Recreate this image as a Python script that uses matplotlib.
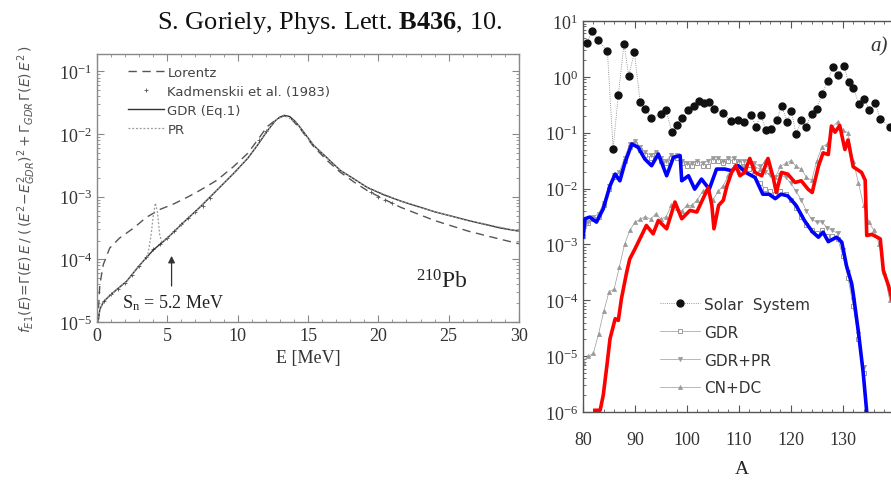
import numpy as np
import matplotlib.pyplot as plt
from matplotlib.ticker import MultipleLocator, LogLocator, NullFormatter

plt.rcParams['font.family'] = 'Liberation Serif'
plt.rcParams['mathtext.fontset'] = 'custom'
plt.rcParams['mathtext.rm'] = 'Liberation Serif'
plt.rcParams['mathtext.it'] = 'Liberation Serif:italic'
plt.rcParams['mathtext.bf'] = 'Liberation Serif:bold'

# ---- left panel: E1 strength of 210Pb (values as log10) ----
gdr_E = [0.05, 0.2, 0.45, 0.8, 1.2, 2.1, 3.0, 4.0, 5.0, 6.1, 7.3, 8.5, 9.7, 10.7, 11.4,
         12.1, 12.7, 13.0, 13.3, 13.7, 14.1, 14.5, 15.4, 16.4, 17.3, 18.3, 19.2, 20.4,
         21.6, 24.0, 26.4, 28.7, 30.0]
gdr_log = [-5.05, -4.8, -4.68, -4.6, -4.52, -4.35, -4.1, -3.85, -3.66, -3.42, -3.17, -2.9,
           -2.63, -2.39, -2.18, -1.95, -1.78, -1.73, -1.70, -1.72, -1.8, -1.91, -2.18, -2.39,
           -2.58, -2.72, -2.85, -2.97, -3.07, -3.24, -3.38, -3.5, -3.55]

lor_E = [0.05, 0.2, 0.45, 0.9, 1.6, 2.6, 3.5, 4.5, 5.4, 6.4, 7.3, 8.5, 9.7, 10.7, 11.4,
         12.1, 12.9, 13.3, 13.7, 14.5, 15.4, 16.4, 17.3, 18.3, 19.2, 20.4, 21.6, 24.0,
         26.4, 28.7, 30.0]
lor_log = [-5.0, -4.4, -4.08, -3.82, -3.66, -3.5, -3.33, -3.2, -3.12, -3.01, -2.9, -2.74,
           -2.52, -2.31, -2.1, -1.88, -1.74, -1.71, -1.73, -1.93, -2.2, -2.43, -2.61, -2.77,
           -2.9, -3.04, -3.17, -3.38, -3.55, -3.68, -3.75]

pr_E = [0.05, 0.2, 0.45, 1.2, 2.1, 3.0, 3.6, 3.85, 4.0, 4.15, 4.3, 4.45, 4.6, 5.0, 6.1,
        7.3, 8.5, 9.7, 10.7, 11.4, 12.1, 12.7, 13.3, 14.1, 15.4, 17.3, 19.2, 21.6, 24.0,
        26.4, 30.0]
pr_log = [-5.05, -4.8, -4.68, -4.52, -4.35, -4.1, -3.95, -3.6, -3.3, -3.1, -3.25, -3.6,
          -3.72, -3.66, -3.42, -3.17, -2.9, -2.63, -2.39, -2.18, -1.95, -1.78, -1.70, -1.8,
          -2.18, -2.58, -2.85, -3.07, -3.24, -3.38, -3.55]

kad_E = [0.5, 1.0, 1.5, 2.0, 2.5, 3.0, 3.5, 4.0, 4.5, 5.0, 5.5, 6.0, 6.5, 7.0, 7.5, 8.0,
         11.5, 12.0, 19.5, 20.0, 20.5, 21.0]
kad_log = [-4.66, -4.55, -4.47, -4.37, -4.25, -4.11, -3.97, -3.84, -3.75, -3.66, -3.55,
           -3.44, -3.34, -3.24, -3.14, -3.02, -2.1, -1.95, -2.93, -3.0, -3.05, -3.1]

# ---- right panel: abundances vs A (values as log10) ----
ss_A = [80.7, 81.8, 82.9, 84.7, 85.8, 86.8, 87.9, 88.8, 89.9, 91.0, 92.0, 93.1, 95.0, 96.0,
        97.1, 98.0, 99.0, 100.3, 101.3, 102.3, 103.3, 104.3, 105.3, 106.9, 108.5, 109.8,
        111.0, 112.3, 113.3, 114.2, 115.2, 116.2, 117.3, 118.2, 119.3, 120.1, 121.0, 122.0,
        122.9, 124.0, 125.0, 126.0, 127.1, 128.1, 129.1, 130.2, 131.1, 132.0, 133.1, 134.1,
        135.1, 136.2, 137.2, 139.0]
ss_log = [0.60, 0.82, 0.66, 0.46, -1.29, -0.32, 0.59, 0.02, 0.44, -0.45, -0.57, -0.74, -0.66,
          -0.60, -0.99, -0.86, -0.74, -0.60, -0.52, -0.44, -0.47, -0.45, -0.57, -0.65, -0.79,
          -0.78, -0.81, -0.68, -0.89, -0.68, -0.95, -0.93, -0.78, -0.52, -0.80, -0.61, -1.03,
          -0.77, -0.90, -0.66, -0.57, -0.30, -0.07, 0.18, 0.04, 0.20, -0.09, -0.19, -0.49,
          -0.39, -0.60, -0.46, -0.75, -0.90]

gdr_A = np.arange(80, 135)
gdr_ab = [-2.85, -2.62, -2.55, -2.5, -2.3, -2.0, -1.8, -1.75, -1.5, -1.25, -1.2, -1.3, -1.4,
          -1.45, -1.4, -1.5, -1.55, -1.45, -1.45, -1.55, -1.6, -1.6, -1.55, -1.6, -1.6, -1.5,
          -1.5, -1.55, -1.5, -1.5, -1.55, -1.6, -1.65, -1.75, -1.9, -2.0, -2.05, -2.1, -2.05,
          -2.1, -2.2, -2.35, -2.5, -2.65, -2.75, -2.8, -2.75, -2.85, -2.85, -2.9, -3.2, -3.6,
          -4.1, -4.7, -5.3]
gdrpr_ab = [-2.8, -2.6, -2.5, -2.45, -2.25, -1.95, -1.75, -1.7, -1.45, -1.2, -1.15, -1.25,
            -1.35, -1.4, -1.35, -1.45, -1.5, -1.4, -1.4, -1.5, -1.55, -1.55, -1.5, -1.55,
            -1.5, -1.45, -1.45, -1.5, -1.45, -1.45, -1.5, -1.5, -1.5, -1.55, -1.6, -1.7,
            -1.75, -1.8, -1.75, -1.8, -1.9, -2.05, -2.2, -2.4, -2.55, -2.6, -2.6, -2.7, -2.75,
            -2.8, -3.1, -3.5, -4.0, -4.6, -5.2]
cn_A = np.arange(80, 140)
cn_ab = [-5.1, -5.0, -4.95, -4.6, -4.2, -3.85, -3.8, -3.4, -3.0, -2.75,
         -2.6, -2.55, -2.5, -2.55, -2.45, -2.55, -2.5, -2.3, -2.35, -2.4,
         -2.3, -2.3, -2.2, -2.05, -2.0, -2.2, -2.05, -1.95, -1.75, -1.6,
         -1.7, -1.6, -1.5, -1.6, -1.65, -1.5, -1.7, -1.8, -1.6, -1.55,
         -1.5, -1.6, -1.65, -1.8, -1.85, -1.5, -1.25, -1.2, -0.9, -0.8,
         -0.95, -1.0, -1.5, -1.9, -2.3, -2.6, -2.75, -3.0, -3.5, -4.0]

blue_A = [80.0, 80.4, 81.3, 82.6, 83.9, 85.2, 86.2, 87.1, 88.1, 89.4, 90.6, 91.9, 93.2, 94.5,
          96.1, 97.4, 98.7, 99.0, 100.3, 101.5, 102.8, 104.3, 105.7, 107.3, 108.6, 109.9,
          111.3, 113.1, 114.6, 115.8, 117.0, 118.1, 119.4, 121.0, 122.6, 124.1, 125.3, 126.2,
          127.2, 128.8, 129.8, 130.7, 131.7, 132.0, 133.0, 133.9, 134.6]
blue_log = [-2.87, -2.54, -2.51, -2.60, -2.36, -1.95, -1.74, -1.86, -1.53, -1.20, -1.26, -1.47,
            -1.59, -1.38, -1.77, -1.44, -1.41, -1.86, -1.77, -2.01, -1.83, -2.01, -1.65, -1.65,
            -1.68, -1.59, -1.71, -1.80, -2.10, -2.10, -2.18, -2.10, -2.13, -2.30, -2.57, -2.77,
            -2.87, -2.78, -2.95, -2.87, -2.96, -3.38, -3.70, -3.88, -4.57, -5.28, -6.0]

red_A = [82.3, 83.3, 83.9, 84.6, 85.2, 86.2, 86.8, 87.4, 88.4, 89.0, 90.0, 91.0, 92.2, 93.5,
         94.5, 96.1, 97.7, 99.0, 100.6, 101.9, 103.1, 104.1, 104.8, 105.2, 106.1, 107.0, 107.7,
         108.6, 109.4, 110.2, 111.1, 112.1, 113.1, 114.4, 115.6, 116.6, 117.2, 118.2, 119.4,
         120.8, 122.0, 123.3, 124.1, 125.3, 126.2, 127.2, 127.8, 128.5, 129.4, 130.4, 131.0,
         132.0, 133.6, 134.3, 134.6, 135.6, 137.2, 137.8, 138.8, 139.5, 140.5]
red_log = [-5.97, -5.97, -5.70, -5.17, -4.69, -4.33, -4.36, -3.97, -3.50, -3.26, -3.08, -2.89,
           -2.66, -2.81, -2.57, -2.72, -2.24, -2.54, -2.39, -2.42, -2.18, -1.98, -2.30, -2.72,
           -2.30, -2.21, -1.95, -1.71, -1.59, -1.77, -1.71, -1.46, -1.71, -1.77, -1.46, -1.80,
           -2.07, -1.71, -1.74, -1.89, -1.86, -2.01, -2.07, -1.60, -1.36, -1.39, -0.88, -0.99,
           -0.87, -1.30, -1.13, -1.61, -1.71, -1.85, -2.84, -2.82, -2.90, -3.47, -3.74, -4.0,
           -4.5]


def pw(v):
    return 10.0 ** np.asarray(v)


def style_axis(ax, col):
    for s in ax.spines.values():
        s.set_color(col)
        s.set_linewidth(1.0)
    ax.tick_params(which='both', direction='in', top=True, right=True, colors=col,
                   labelcolor='#333333', labelsize=13)
    ax.tick_params(which='major', length=5)
    ax.tick_params(which='minor', length=2.5)


fig = plt.figure(figsize=(8.91, 4.85), dpi=100)

# ---------- left ----------
ax1 = fig.add_axes([0.1089, 0.334, 0.4736, 0.5526])
ax1.plot(lor_E, pw(lor_log), color='#555555', lw=1.0, ls=(0, (6, 4)), label='Lorentz')
ax1.plot(kad_E, pw(kad_log), ls='none', marker='+', ms=3, mew=0.6, color='#555555',
         label='Kadmenskii et al. (1983)')
ax1.plot(gdr_E, pw(gdr_log), color='#333333', lw=1.0, label='GDR (Eq.1)')
ax1.plot(pr_E, pw(pr_log), color='#999999', lw=0.9, ls=(0, (1.5, 1.5)), label='PR')
ax1.set_yscale('log')
ax1.set_xlim(0, 30)
ax1.set_ylim(1e-5, 0.19)
ax1.xaxis.set_major_locator(MultipleLocator(5))
ax1.xaxis.set_minor_locator(MultipleLocator(1))
ax1.yaxis.set_major_locator(LogLocator(base=10, numticks=10))
ax1.yaxis.set_minor_locator(LogLocator(base=10, subs=np.arange(2, 10), numticks=10))
ax1.yaxis.set_minor_formatter(NullFormatter())
style_axis(ax1, '#888888')
ax1.set_xlabel('E [MeV]', fontsize=13, color='#333333', labelpad=4)
ax1.set_ylabel(r'$f_{E1}(E)\!=\!\Gamma(E)\,E\,/\;(\,(E^2\!-\!E^2_{GDR})^2+\Gamma_{GDR}\,\Gamma(E)\,E^2\,)$',
               fontsize=10, family='DejaVu Sans', math_fontfamily='dejavusans',
               color='#555555', labelpad=15)
leg1 = ax1.legend(loc='upper left', bbox_to_anchor=(0.045, 1.0), frameon=False,
                  handlelength=2.7, handletextpad=0.3, labelspacing=0.45,
                  prop={'family': 'DejaVu Sans', 'size': 9.5})
for t in leg1.get_texts():
    t.set_color('#444444')
ax1.text(0.755, 0.13, r'$^{210}$Pb', transform=ax1.transAxes, fontsize=17, color='#222222')
ax1.text(0.06, 0.055, r'S$_\mathrm{n}$ = 5.2 MeV', transform=ax1.transAxes, fontsize=13,
         color='#222222')
ax1.annotate('', xy=(5.3, pw(-3.9)), xytext=(5.3, pw(-4.47)),
             arrowprops=dict(arrowstyle='-|>', color='#333333', lw=0.9, mutation_scale=10))

# ---------- right ----------
ax2 = fig.add_axes([0.6543, 0.1485, 0.3558, 0.806])
grey = '#9a9a9a'
ax2.plot(gdr_A, pw(gdr_ab), color=grey, lw=0.5, marker='s', ms=3, mfc='white', mec=grey,
         mew=0.7, label='GDR', zorder=2)
ax2.plot(gdr_A, pw(gdrpr_ab), color=grey, lw=0.5, marker='v', ms=3, mfc=grey, mec=grey,
         mew=0.5, label='GDR+PR', zorder=2)
ax2.plot(cn_A, pw(cn_ab), color=grey, lw=0.5, marker='^', ms=3, mfc=grey, mec=grey,
         mew=0.5, label='CN+DC', zorder=2)
ax2.plot(ss_A, pw(ss_log), color='#777777', lw=0.6, ls=':', marker='o', ms=5,
         mfc='#111111', mec='#111111', label='Solar  System', zorder=3)
ax2.plot(blue_A, pw(blue_log), color='#0000ff', lw=2.6, solid_joinstyle='round', zorder=4)
ax2.plot(red_A, pw(red_log), color='#ff0000', lw=2.6, solid_joinstyle='round', zorder=4)
ax2.set_yscale('log')
ax2.set_xlim(80, 141)
ax2.set_ylim(1e-6, 10)
ax2.set_xticks([80, 90, 100, 110, 120, 130])
ax2.xaxis.set_minor_locator(MultipleLocator(2))
ax2.yaxis.set_major_locator(LogLocator(base=10, numticks=10))
ax2.yaxis.set_minor_locator(LogLocator(base=10, subs=np.arange(2, 10), numticks=10))
ax2.yaxis.set_minor_formatter(NullFormatter())
style_axis(ax2, '#555555')
ax2.tick_params(axis='x', which='major', pad=14)
ax2.set_xlabel('A', fontsize=14, color='#222222', labelpad=8)
h, l = ax2.get_legend_handles_labels()
order = [3, 0, 1, 2]
leg2 = ax2.legend([h[i] for i in order], [l[i] for i in order], loc='lower left',
                  bbox_to_anchor=(0.2, 0.007), frameon=False, handlelength=2.6,
                  handletextpad=0.3, labelspacing=0.85,
                  prop={'family': 'DejaVu Sans', 'size': 11})
for t in leg2.get_texts():
    t.set_color('#333333')
ax2.text(0.905, 0.925, 'a)', transform=ax2.transAxes, fontsize=15, style='italic',
         color='#333333')

# ---------- header ----------
fig.text(0.176, 0.953, r'S. Goriely, Phys. Lett. $\mathbf{B436}$, 10.', fontsize=19,
         color='#111111', va='center')

fig.savefig('out.png', dpi=100)
